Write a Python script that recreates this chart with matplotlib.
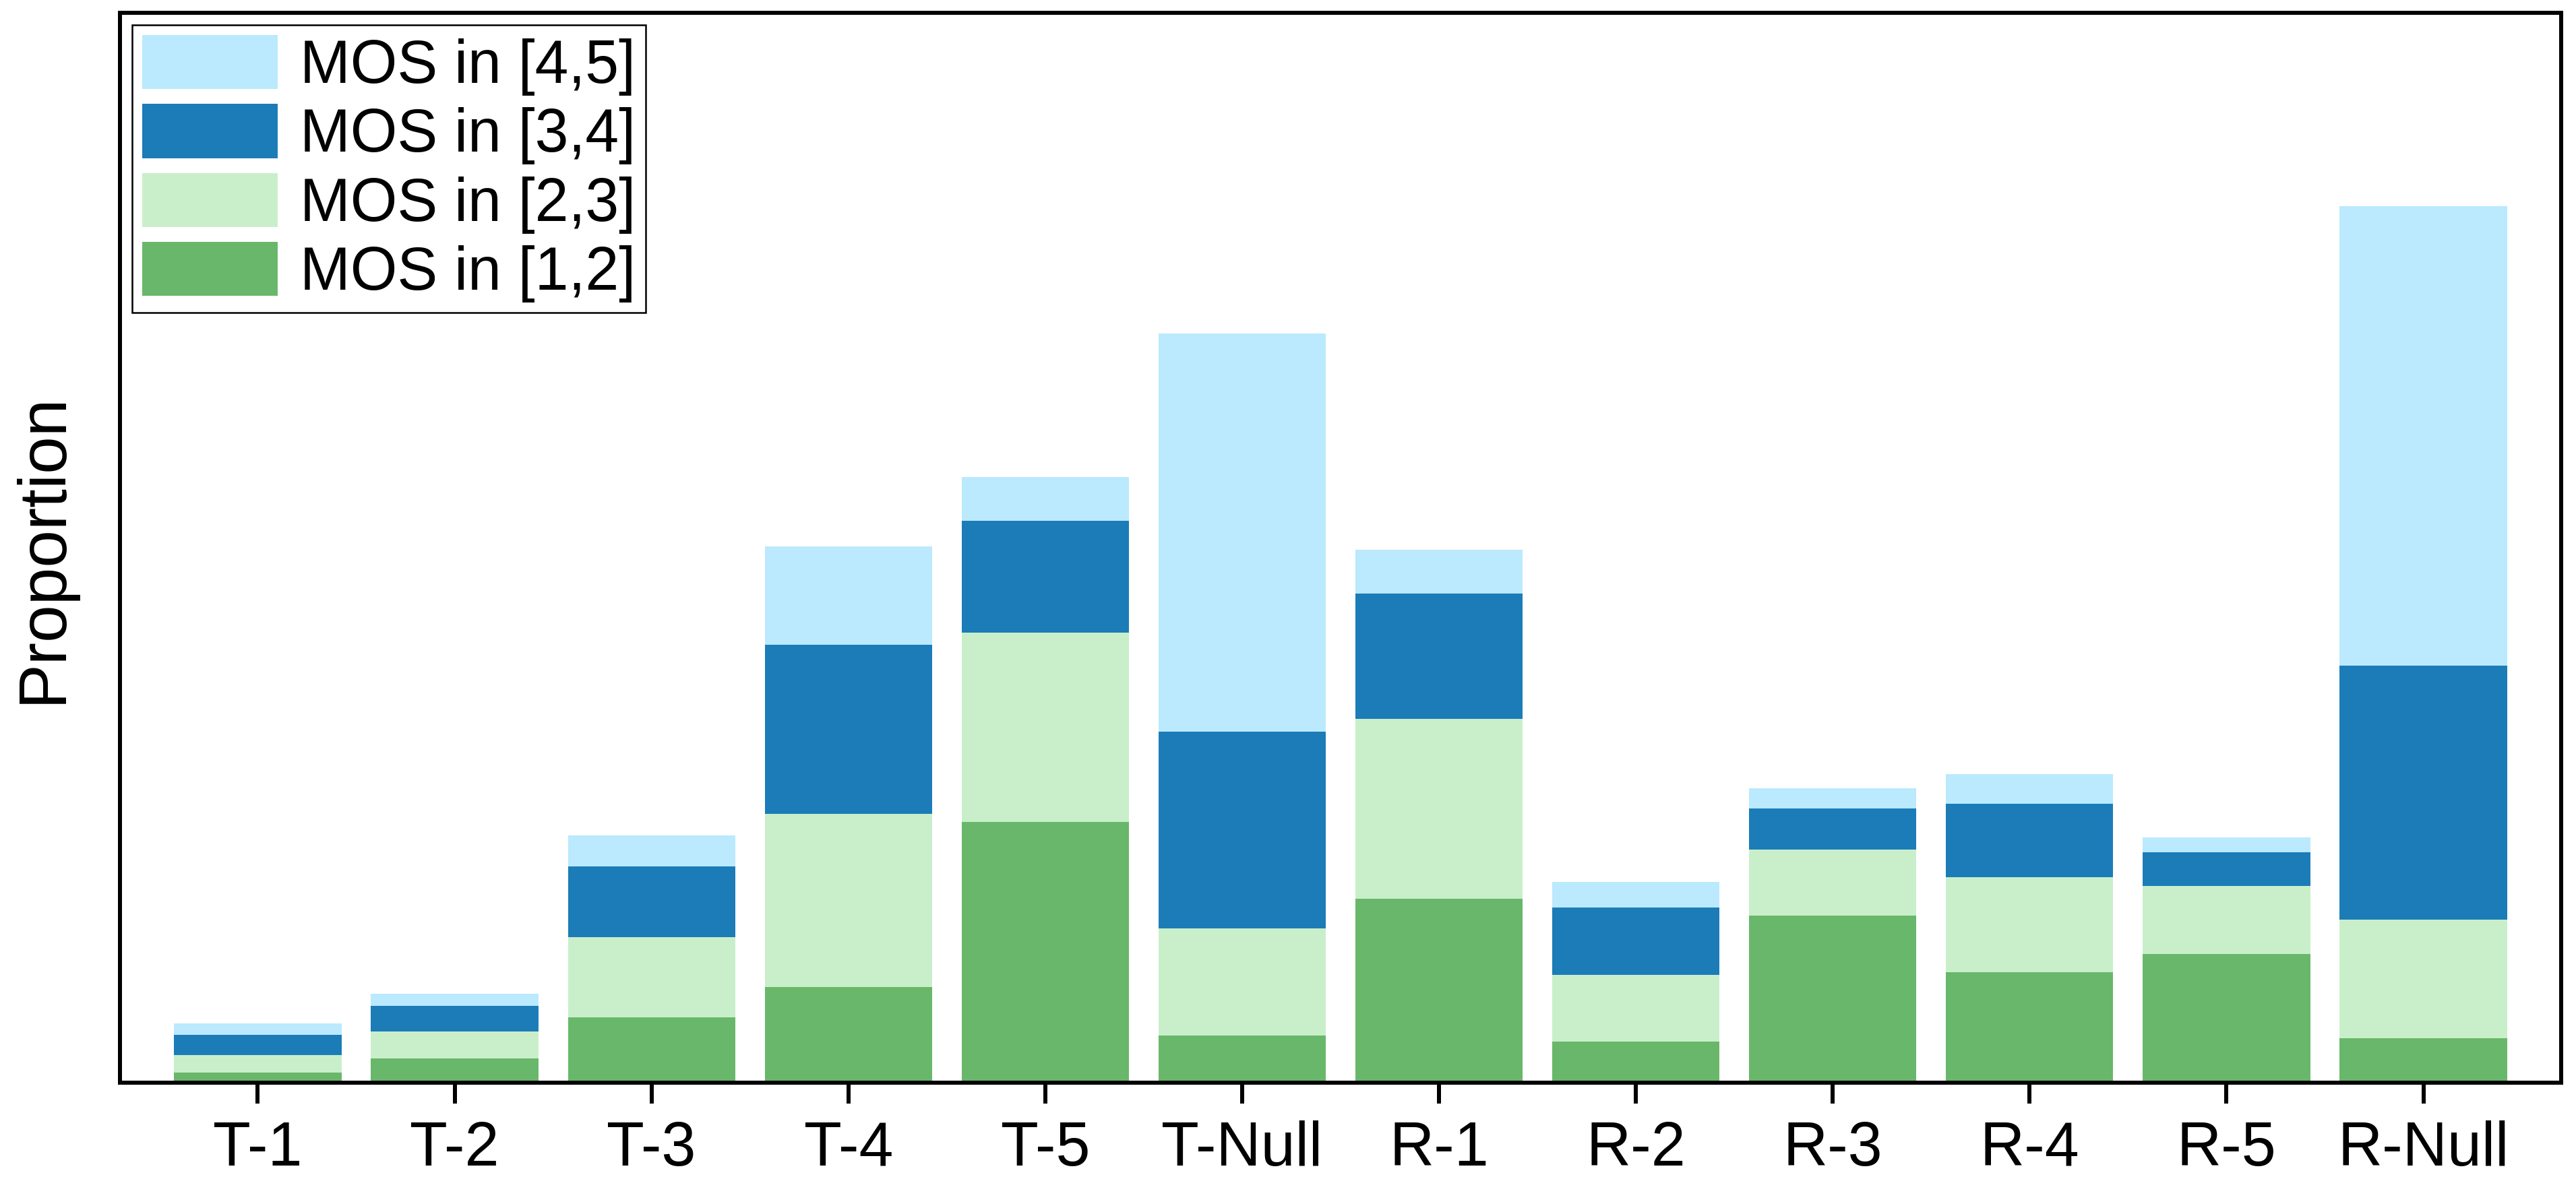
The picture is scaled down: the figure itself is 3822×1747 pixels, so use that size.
import matplotlib
matplotlib.use("Agg")
import matplotlib.pyplot as plt
import numpy as np
from matplotlib.patches import Patch

plt.rcParams['font.family'] = ['Liberation Sans', 'DejaVu Sans']

categories = ["T-1", "T-2", "T-3", "T-4", "T-5", "T-Null",
              "R-1", "R-2", "R-3", "R-4", "R-5", "R-Null"]
mos_1_2 = [0.0021, 0.0051, 0.0139, 0.0203, 0.0553, 0.0100,
           0.0390, 0.0087, 0.0354, 0.0235, 0.0273, 0.0095]
mos_2_3 = [0.0038, 0.0057, 0.0170, 0.0367, 0.0402, 0.0227,
           0.0382, 0.0142, 0.0141, 0.0201, 0.0144, 0.0251]
mos_3_4 = [0.0042, 0.0055, 0.0150, 0.0359, 0.0236, 0.0418,
           0.0265, 0.0142, 0.0086, 0.0156, 0.0072, 0.0538]
mos_4_5 = [0.0025, 0.0025, 0.0066, 0.0209, 0.0093, 0.0844,
           0.0093, 0.0055, 0.0044, 0.0062, 0.0031, 0.0975]
series_labels = ["MOS in [1,2]", "MOS in [2,3]", "MOS in [3,4]", "MOS in [4,5]"]
colors = ["#69B76A", "#C9EFCA", "#1B7CB8", "#BBE9FD"]

fig = plt.figure(figsize=(3822/300, 1747/300), dpi=300)
ax = fig.add_axes([178/3822, 140/1747, (3800-178)/3822, (1607-19)/1747])

x = np.arange(len(categories))
bottom = np.zeros(len(categories))
handles = []
for vals, lab, col in zip([mos_1_2, mos_2_3, mos_3_4, mos_4_5], series_labels, colors):
    v = np.array(vals)
    ax.bar(x, v, width=0.85, bottom=bottom, color=col, label=lab, linewidth=0)
    bottom += v
    handles.append(Patch(facecolor=col, edgecolor='none', label=lab))

ax.set_xlim(-0.70, len(categories) - 1 + 0.70)
ax.set_ylim(0, 0.2269)
ax.set_xticks(x)
ax.set_xticklabels(categories, fontsize=22)
ax.set_yticks([])
ax.tick_params(axis='x', direction='out', length=7.4, width=1.44, pad=6.0, colors='black')
for sp in ax.spines.values():
    sp.set_linewidth(1.44)
    sp.set_color('black')
ax.set_ylabel("Proportion", fontsize=24, labelpad=16)

leg = ax.legend(handles=handles[::-1], loc='upper left', fontsize=21.5,
                fancybox=False, framealpha=1, edgecolor='black',
                borderaxespad=0.2, borderpad=0.17, handlelength=2.24,
                handleheight=1.0, handletextpad=0.37, labelspacing=0.14)
leg.get_frame().set_linewidth(0.6)

fig.savefig("out.png", dpi=300)
